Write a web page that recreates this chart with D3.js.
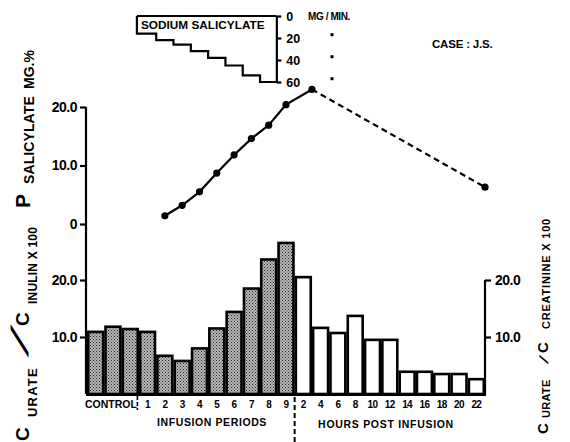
<!DOCTYPE html>
<html><head><meta charset="utf-8">
<script src="https://cdn.jsdelivr.net/npm/d3@7"></script>
<style>
html,body{margin:0;padding:0;background:#fff;}
svg{display:block;font-family:"Liberation Sans",Arial,sans-serif;font-weight:bold;}
</style></head><body>
<svg id="c" width="570" height="442"></svg>
<script>
// ---- data ----
const controlLabels = ["C1", "C2", "C3"];
const controlValues = [10.9, 11.8, 11.4];
const infusionPeriods = ["1","2","3","4","5","6","7","8","9"];
const infusionValues = [10.9, 6.7, 5.8, 8.0, 11.5, 14.4, 18.5, 23.6, 26.5];
const postHours = ["2","4","6","8","10","12","14","16","18","20","22"];
const postValues = [20.5, 11.6, 10.7, 13.7, 9.5, 9.5, 3.9, 3.9, 3.5, 3.5, 2.6];
const salPeriods = [2,3,4,5,6,7,8,9];
const salInfusion = [1.4, 3.2, 5.5, 8.7, 11.8, 14.6, 16.9, 20.4];
const salPostHours = [2, 22];
const salPost = [23.0, 6.3];
const ratePeriods = [1,2,3,4,5,6,7,8];
const rates = [16, 22, 26, 32, 38, 45, 54, 60];
const rateTicks = [0, 20, 40, 60];
const rateMarks = [17, 37, 57];
const salTicks = [0, 10, 20];
const ratioTicks = [10, 20];

// ---- build ----
const svg = d3.select("#c");
const bars = [
  ...controlLabels.map((k,i)=>({key:k, v:controlValues[i], gray:true})),
  ...infusionPeriods.map((p,i)=>({key:"P"+p, v:infusionValues[i], gray:true, label:p})),
  ...postHours.map((h,i)=>({key:"H"+h, v:postValues[i], gray:false, label:h}))
];
const x = d3.scaleBand().domain(bars.map(d=>d.key)).range([87, 485]).padding(0);
const bw = x.bandwidth();
const yBar = d3.scaleLinear().domain([0, 20]).range([394, 280]);
const ySal = d3.scaleLinear().domain([0, 20]).range([224, 107]);
const yRate = d3.scaleLinear().domain([0, 60]).range([16, 82]);
const xHours = d3.scaleLinear().domain([0, 22]).range([x("H2"), 485]);

const defs = svg.append("defs");
const pat = defs.append("pattern").attr("id","stip").attr("patternUnits","userSpaceOnUse")
  .attr("width",3).attr("height",3);
pat.append("rect").attr("width",3).attr("height",3).attr("fill","#b8b8b8");
pat.append("rect").attr("x",0).attr("y",0).attr("width",1).attr("height",1).attr("fill","#262626");
pat.append("rect").attr("x",1.5).attr("y",1.5).attr("width",1).attr("height",1).attr("fill","#3a3a3a");

// bars
svg.append("g").selectAll("rect").data(bars).join("rect")
  .attr("x", d=>x(d.key)+1.2).attr("width", bw-2.4)
  .attr("y", d=>yBar(d.v)).attr("height", d=>yBar(0)-yBar(d.v))
  .attr("fill", d=>d.gray ? "url(#stip)" : "#fff")
  .attr("stroke","#000").attr("stroke-width",2.6);
svg.append("line").attr("x1",86).attr("x2",486).attr("y1",yBar(0)+0.5).attr("y2",yBar(0)+0.5)
  .attr("stroke","#000").attr("stroke-width",3);

// left axis line
svg.append("line").attr("x1",86).attr("x2",86).attr("y1",ySal(20)).attr("y2",yBar(0))
  .attr("stroke","#000").attr("stroke-width",2.2);
const fmt = d => d===0 ? "0" : d3.format(".1f")(d);
const gSal = svg.append("g").attr("transform","translate(86,0)")
  .call(d3.axisLeft(ySal).tickValues(salTicks).tickSize(6).tickPadding(3).tickFormat(fmt));
const gBarL = svg.append("g").attr("transform","translate(86,0)")
  .call(d3.axisLeft(yBar).tickValues(ratioTicks).tickSize(6).tickPadding(3).tickFormat(fmt));
// right axis
svg.append("line").attr("x1",485).attr("x2",485).attr("y1",yBar(20)).attr("y2",yBar(0))
  .attr("stroke","#000").attr("stroke-width",2.2);
const gBarR = svg.append("g").attr("transform","translate(485,0)")
  .call(d3.axisRight(yBar).tickValues(ratioTicks).tickSize(6).tickPadding(4).tickFormat(fmt));
[gSal,gBarL,gBarR].forEach(g=>{
  g.select(".domain").remove();
  g.selectAll(".tick line").attr("stroke","#000").attr("stroke-width",2.2);
  g.selectAll(".tick text").attr("font-size",14).attr("font-weight","bold")
    .attr("font-family","'Liberation Sans',Arial,sans-serif").attr("fill","#000").attr("letter-spacing",-0.5);
});

// salicylate line
const salPts = salPeriods.map((p,i)=>[x("P"+p)+bw/2, ySal(salInfusion[i])]);
const postPts = salPostHours.map((h,i)=>[xHours(h), ySal(salPost[i])]);
const line = d3.line();
svg.append("path").attr("d", line([...salPts, postPts[0]])).attr("fill","none")
  .attr("stroke","#000").attr("stroke-width",2.2);
svg.append("path").attr("d", line(postPts)).attr("fill","none")
  .attr("stroke","#000").attr("stroke-width",2.2).attr("stroke-dasharray","6,4");
svg.append("g").selectAll("circle").data([...salPts, ...postPts]).join("circle")
  .attr("cx",d=>d[0]).attr("cy",d=>d[1]).attr("r",3.6).attr("fill","#000");

// infusion rate staircase
const xs0 = x("P1") - 2, xsEnd = x("P8")+bw - 1;
const stairs = [[xs0, yRate(0)]];
ratePeriods.forEach((p,i)=>{
  stairs.push([i===0 ? xs0 : x("P"+p), yRate(rates[i])]);
  stairs.push([i===ratePeriods.length-1 ? xsEnd : x("P"+p)+bw, yRate(rates[i])]);
});
const stepLine = [];
stairs.forEach((pt,i)=>{ if(i>0 && stairs[i-1][1]!==pt[1]) stepLine.push([pt[0], stairs[i-1][1]]); stepLine.push(pt); });
svg.append("path").attr("d", line(stepLine)).attr("fill","none").attr("stroke","#000").attr("stroke-width",2.2);
svg.append("line").attr("x1",xs0).attr("x2",xsEnd).attr("y1",yRate(0)).attr("y2",yRate(0))
  .attr("stroke","#000").attr("stroke-width",2.2);
const gRate = svg.append("g").attr("transform",`translate(${xsEnd},0)`)
  .call(d3.axisRight(yRate).tickValues(rateTicks).tickSize(5).tickSizeOuter(0).tickPadding(5));
gRate.select(".domain").attr("stroke","#000").attr("stroke-width",2.2);
gRate.selectAll(".tick line").attr("stroke","#000").attr("stroke-width",2.2);
gRate.selectAll(".tick text").attr("font-size",12.5).attr("font-weight","bold")
  .attr("font-family","'Liberation Sans',Arial,sans-serif").attr("fill","#000");
svg.append("g").selectAll("rect").data(rateMarks).join("rect")
  .attr("x",330.5).attr("y",d=>yRate(d)-1.5).attr("width",3).attr("height",3).attr("fill","#000");

function txt(t, xx, yy, size, anchor){
  return svg.append("text").attr("x",xx).attr("y",yy).attr("font-size",size)
    .attr("text-anchor",anchor||"start").attr("fill","#000").text(t);
}
txt("SODIUM SALICYLATE", 141, 29, 11.8);
txt("MG / MIN.", 308, 20, 10).attr("letter-spacing",-0.4);
txt("CASE : J.S.", 432, 48, 11.5).attr("letter-spacing",-0.2);

// x labels
txt("CONTROL", x("C2")+bw/2-2, 408, 10.5, "middle");
svg.append("g").selectAll("text").data(bars.filter(d=>d.label)).join("text")
  .attr("x", d=>x(d.key)+bw/2).attr("y",408).attr("font-size",10).attr("text-anchor","middle")
  .attr("letter-spacing",-0.6).attr("fill","#000").text(d=>d.label);
txt("INFUSION PERIODS", 212, 426, 10.5, "middle").attr("letter-spacing",0.6);
txt("HOURS POST INFUSION", 386, 428, 10.5, "middle").attr("letter-spacing",0.7);
// dashed separators
svg.append("line").attr("x1",x("H2")).attr("x2",x("H2")).attr("y1",397).attr("y2",442)
  .attr("stroke","#000").attr("stroke-width",2).attr("stroke-dasharray","5,3");
svg.append("line").attr("x1",x("P1")-1.5).attr("x2",x("P1")-1.5).attr("y1",396).attr("y2",410)
  .attr("stroke","#000").attr("stroke-width",1.6).attr("stroke-dasharray","4,2");

// rotated labels
function rtxt(t, bx, sy, size, opts){
  opts = opts||{};
  const e = svg.append("text").attr("transform",`translate(${bx},${sy}) rotate(-90)${opts.extra||""}`)
    .attr("font-size",size).attr("text-anchor",opts.anchor||"start").attr("fill","#000").text(t);
  if(opts.ls!==undefined) e.attr("letter-spacing",opts.ls);
  return e;
}
// left lower: C_URATE / C_INULIN X 100
rtxt("C", 29, 441, 19);
rtxt("URATE", 37, 417, 13, {ls:1.2});
rtxt("/", 28, 351, 24, {anchor:"middle", extra:" skewX(-50) scale(2,1)"});
rtxt("C", 29, 326, 19);
rtxt("INULIN X 100", 37, 304, 12, {ls:0.2});
// left upper: P_SALICYLATE MG.%
rtxt("P", 30, 208, 21);
rtxt("SALICYLATE", 34, 184, 14, {ls:0.1});
rtxt("MG.%", 34, 89, 14);
// right: C_URATE / C_CREATININE X 100
rtxt("C", 548, 434, 15);
rtxt("URATE", 550, 418, 11, {ls:0.3});
rtxt("/", 548, 362, 12, {anchor:"middle", extra:" skewX(-30) scale(1.4,1)"});
rtxt("C", 548, 353, 15);
rtxt("CREATININE X 100", 550, 329, 11, {ls:0.8});
</script>
</body></html>
